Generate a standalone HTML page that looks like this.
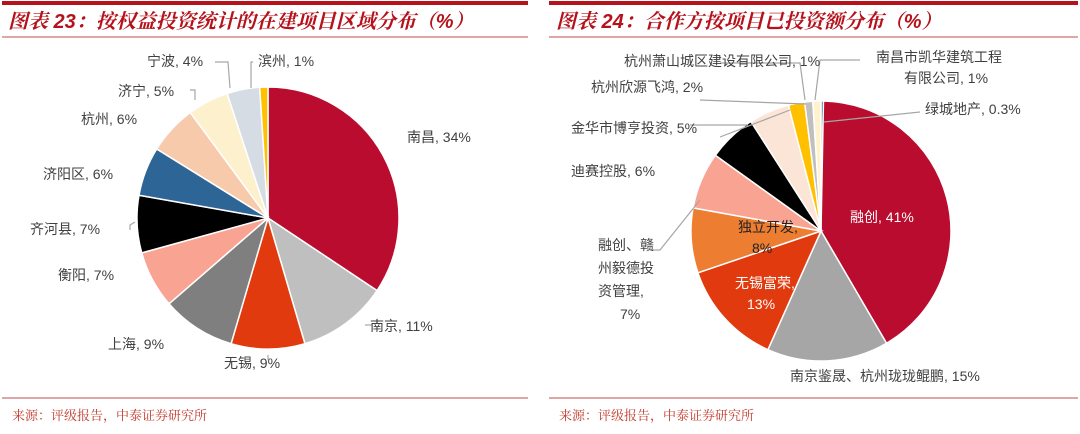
<!DOCTYPE html>
<html><head><meta charset="utf-8"><style>
body{margin:0;width:1080px;height:434px;background:#fff;overflow:hidden;font-family:"Liberation Sans","Noto Sans CJK SC",sans-serif}
svg{position:absolute;left:0;top:0}
</style></head><body>
<svg width="1080" height="434" id="s" xmlns="http://www.w3.org/2000/svg">
<g fill="none">
<rect x="2" y="1" width="526" height="4" fill="#B5121B"/>
<rect x="549" y="1" width="529" height="4" fill="#B5121B"/>
<line x1="2" y1="37" x2="528" y2="37" stroke="#C9706E" stroke-width="1.2"/>
<line x1="549" y1="37" x2="1078" y2="37" stroke="#C9706E" stroke-width="1.2"/>
<line x1="2" y1="398" x2="528" y2="398" stroke="#C9706E" stroke-width="1.2"/>
<line x1="549" y1="398" x2="1078" y2="398" stroke="#C9706E" stroke-width="1.2"/>
</g>
<g font-family="'Liberation Sans','Noto Serif CJK SC',serif" font-style="italic" font-weight="bold" font-size="20" fill="#B5121B">
<text x="8" y="28">图表 23：按权益投资统计的在建项目区域分布（%）</text>
<text x="556" y="28">图表 24：合作方按项目已投资额分布（%）</text>
</g>
<g font-size="13" fill="#C0392B" font-family="'Liberation Serif','Noto Serif CJK SC',serif">
<text x="12" y="420">来源：评级报告，中泰证券研究所</text>
<text x="559" y="420">来源：评级报告，中泰证券研究所</text>
</g>
<g id="p1"></g><g id="p2"></g>
<g stroke="#A6A6A6" fill="none" stroke-width="1.2">
<polyline points="215,62 228,62 230,88"/>
<polyline points="253,62 251,62 251,88"/>
<polyline points="190,90 195,90 195,100"/>
<polyline points="130,230 130,225 135,222"/>
<polyline points="268,360 268,355"/>
<polyline points="365,325 372,325"/>
<polyline points="700,100 806,104"/>
<polyline points="720,63 800,63 805,100"/>
<polyline points="860,60 820,60 815,100"/>
<polyline points="720,137 790,110"/>
<polyline points="690,125 748,125"/>
<polyline points="920,112 824,122"/>
<polyline points="650,250 660,250 700,200"/>
</g>
<g font-size="14" fill="#404040">
<text x="147" y="66">宁波, 4%</text>
<text x="258" y="66">滨州, 1%</text>
<text x="118" y="96">济宁, 5%</text>
<text x="81" y="124">杭州, 6%</text>
<text x="43" y="179">济阳区, 6%</text>
<text x="30" y="234">齐河县, 7%</text>
<text x="58" y="280">衡阳, 7%</text>
<text x="108" y="349">上海, 9%</text>
<text x="224" y="368">无锡, 9%</text>
<text x="370" y="331">南京, 11%</text>
<text x="407" y="142">南昌, 34%</text>
<text x="624" y="66">杭州萧山城区建设有限公司, 1%</text>
<text x="876" y="62">南昌市凯华建筑工程</text>
<text x="904" y="83">有限公司, 1%</text>
<text x="591" y="92">杭州欣源飞鸿, 2%</text>
<text x="925" y="114">绿城地产, 0.3%</text>
<text x="571" y="133">金华市博亨投资, 5%</text>
<text x="571" y="176">迪赛控股, 6%</text>
<text x="598" y="250">融创、赣</text>
<text x="598" y="273">州毅德投</text>
<text x="598" y="296">资管理,</text>
<text x="620" y="319">7%</text>
<text x="790" y="381">南京鉴晟、杭州珑珑鲲鹏, 15%</text>
</g>
<g font-size="14" fill="#fff">
<text x="850" y="222">融创, 41%</text>
<text x="738" y="232" fill="#222">独立开发,</text>
<text x="752" y="253" fill="#222">8%</text>
<text x="735" y="288">无锡富荣,</text>
<text x="747" y="309">13%</text>
</g>
</svg>
<script>
function pie(id,cx,cy,r,data,start){
 var tot=data.reduce(function(a,d){return a+d[0]},0),a=start,g=document.getElementById(id),h='';
 data.forEach(function(d){var a2=a+d[0]/tot*2*Math.PI;
  var x1=cx+r*Math.sin(a),y1=cy-r*Math.cos(a),x2=cx+r*Math.sin(a2),y2=cy-r*Math.cos(a2);
  h+='<path d="M'+cx+','+cy+'L'+x1+','+y1+'A'+r+','+r+' 0 '+((a2-a)>Math.PI?1:0)+' 1 '+x2+','+y2+'Z" fill="'+d[1]+'" stroke="#fff" stroke-width="1.5"/>';a=a2;});
 g.innerHTML=h;
}
pie('p1',268,218,131,[[34,'#BA0C2F'],[11,'#BFBFBF'],[9,'#E03A0E'],[9,'#7F7F7F'],[7,'#F9A493'],[7,'#000'],[6,'#2E6597'],[6,'#F7CAAC'],[5,'#FDF0CC'],[4,'#D6DCE4'],[1,'#FFC000']],0);
pie('p2',821,231,130,[[0.3,'#1F4E79'],[41,'#BA0C2F'],[15,'#A6A6A6'],[13,'#E03A0E'],[8,'#ED7D31'],[7,'#F9A493'],[6,'#000'],[5,'#FBE5D6'],[2,'#FFC000'],[1,'#BFBFBF'],[1,'#FFF2CC']],0);
</script>
</body></html>
